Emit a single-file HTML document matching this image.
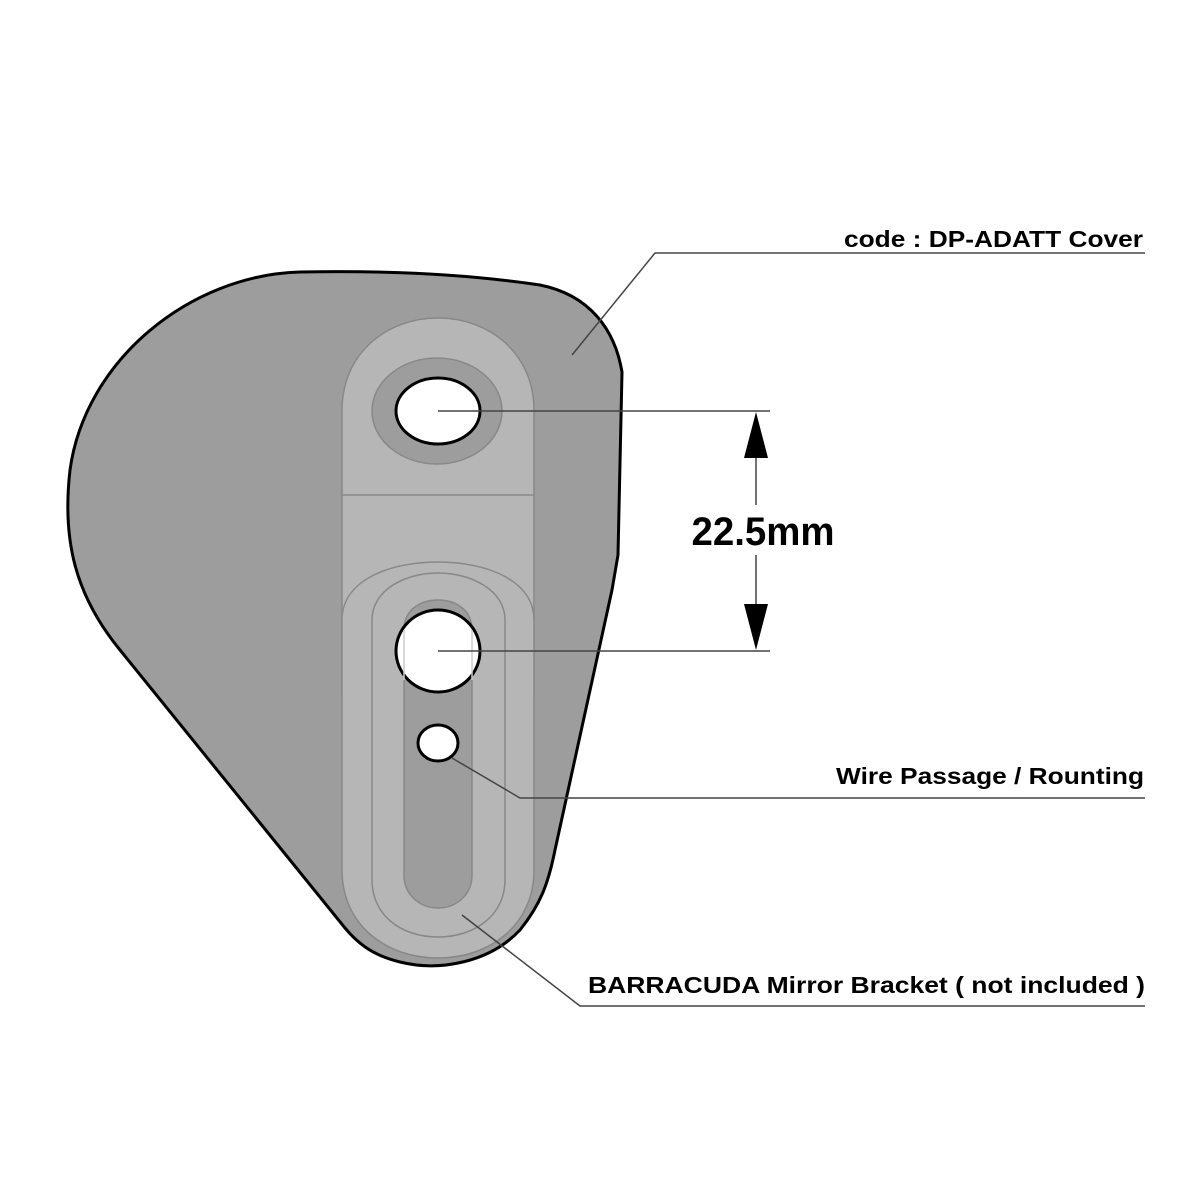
<!DOCTYPE html>
<html><head><meta charset="utf-8"><style>html,body{margin:0;padding:0;background:#fff}svg{display:block}</style></head>
<body>
<svg width="1200" height="1200" viewBox="0 0 1200 1200" xmlns="http://www.w3.org/2000/svg">
<rect width="1200" height="1200" fill="#fff"/>
<!-- cover -->
<path d="M 300,272 C 400,270 480,276 540,285 C 590,295 615,330 622,372 L 618,555 L 612,590 L 555,850 C 548,885 540,905 520,930 C 490,962 440,972 400,962 C 370,955 355,940 345,928 L 120,650 C 75,595 62,540 70,470 C 85,360 190,275 300,272 Z" fill="#9d9d9d" stroke="#000" stroke-width="3"/>
<!-- upper bracket -->
<path d="M 342,495 L 342,410 C 342,355 385,318 438,318 C 491,318 534,355 534,410 L 534,700 L 342,700 Z" fill="#b6b6b6" stroke="#888" stroke-width="1.5"/>
<line x1="342" y1="495" x2="534" y2="495" stroke="#888" stroke-width="1.5"/>
<ellipse cx="437" cy="411" rx="65" ry="53" fill="#9d9d9d" stroke="#888" stroke-width="1.5"/>
<ellipse cx="438" cy="411" rx="42" ry="33" fill="#fff" stroke="#000" stroke-width="3"/>
<!-- lower bracket -->
<path d="M 342,620 C 342,580 390,562 438,562 C 486,562 534,580 534,620 L 534,870 C 534,925 490,958 438,958 C 386,958 342,925 342,870 Z" fill="#b6b6b6" stroke="#888" stroke-width="1.5"/>
<path d="M 372,620 C 372,590 405,573 438,573 C 471,573 505,590 505,620 L 505,880 C 505,915 475,937 438,937 C 401,937 372,915 372,880 Z" fill="#b6b6b6" stroke="#888" stroke-width="1.5"/>
<path d="M 404,630 C 404,610 420,600 438,600 C 456,600 472,610 472,630 L 472,875 C 472,895 456,908 438,908 C 420,908 404,895 404,875 Z" fill="#9d9d9d" stroke="#888" stroke-width="1.5"/>
<ellipse cx="438" cy="651" rx="42" ry="41" fill="#fff" stroke="#000" stroke-width="3"/>
<line x1="404" y1="630" x2="404" y2="680" stroke="#ccc" stroke-width="1.5"/>
<line x1="472" y1="630" x2="472" y2="680" stroke="#ccc" stroke-width="1.5"/>
<ellipse cx="438" cy="743" rx="20" ry="18" fill="#fff" stroke="#000" stroke-width="3"/>
<!-- dimension -->
<g stroke="#444" stroke-width="1.5" fill="none">
<line x1="438" y1="411" x2="770" y2="411"/>
<line x1="438" y1="651" x2="770" y2="651"/>
<line x1="756" y1="440" x2="756" y2="625"/>
</g>
<polygon points="756,412 744,458 768,458" fill="#000"/>
<polygon points="756,650 744,604 768,604" fill="#000"/>
<rect x="688" y="505" width="150" height="50" fill="#fff"/>
<text x="763" y="545" text-anchor="middle" font-family="Liberation Sans, sans-serif" font-weight="bold" font-size="40" textLength="143" lengthAdjust="spacingAndGlyphs">22.5mm</text>
<!-- leaders -->
<g stroke="#444" stroke-width="1.5" fill="none">
<polyline points="572,355 655,253 1145,253"/>
<polyline points="452,758 520,798 1145,798"/>
<polyline points="462,915 580,1006 1145,1006"/>
</g>
<g font-family="Liberation Sans, sans-serif" font-weight="bold" font-size="23" fill="#000">
<text x="844" y="247" textLength="299" lengthAdjust="spacingAndGlyphs">code : DP-ADATT Cover</text>
<text x="836" y="784" textLength="308" lengthAdjust="spacingAndGlyphs">Wire Passage / Rounting</text>
<text x="588" y="993" textLength="557" lengthAdjust="spacingAndGlyphs">BARRACUDA Mirror Bracket ( not  included )</text>
</g>
</svg>
</body></html>
